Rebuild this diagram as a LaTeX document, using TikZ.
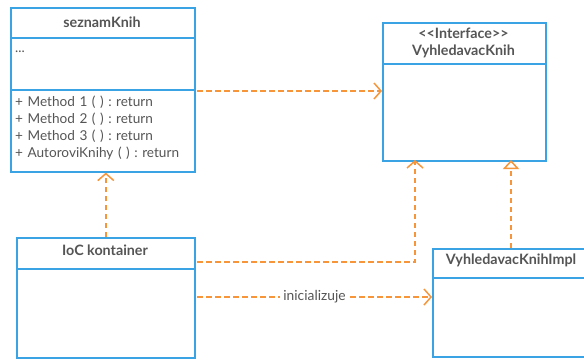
\documentclass[tikz,border=0pt]{standalone}
\usepackage{fontspec}
\setmainfont{Lato}
\usetikzlibrary{arrows.meta,calc}
\definecolor{umlblue}{HTML}{3AA3E3}
\definecolor{deporange}{HTML}{F7953A}
\definecolor{txtgray}{HTML}{555555}
\frenchspacing
\tikzset{
  x=1pt, y=-1pt,
  umlbox/.style={draw=umlblue, line width=1.6pt, fill=white, rectangle, inner sep=0pt, anchor=north west},
  divider/.style={draw=umlblue, line width=1.6pt},
  title/.style={text=txtgray, font=\fontsize{14.3}{17}\selectfont\bfseries, inner sep=0pt},
  member/.style={text=txtgray, font=\fontsize{13.6}{17}\selectfont, inner sep=0pt, anchor=west},
  dashline/.style={draw=deporange, line width=1.5pt, dash pattern=on 5.5pt off 3.5pt},
  dep/.style={dashline,
    -{Straight Barb[length=7pt,width=16pt,line width=1.5pt,sep=0pt]}},
  real/.style={dashline,
    -{Triangle[open,length=9pt,width=16pt,line width=1.5pt,fill=white]}},
  lbl/.style={text=txtgray, font=\fontsize{13.8}{15}\selectfont, fill=white, inner xsep=3pt, inner ysep=1pt},
}
\begin{document}
\begin{tikzpicture}
\useasboundingbox (0,0) rectangle (584,360);
\clip (0,0) rectangle (584,360);

% class seznamKnih
\node[umlbox, minimum width=184pt, minimum height=164pt] (sez) at (10,7) {};
\draw[divider] (10,38) -- (194,38);
\draw[divider] (10,90) -- (194,90);
\node[title] (sezT) at (102,22) {seznamKnih};
\node[member] (sezA) at (15,52) {...};
\node[member, text width=175pt, align=left] (sezM) at (15,127.5)
  {+ Method 1 ( ) : return\\+ Method 2 ( ) : return\\+ Method 3 ( ) : return\\+ AutoroviKnihy ( ) : return};

% interface VyhledavacKnih
\node[umlbox, minimum width=163pt, minimum height=138pt] (ifc) at (382,22) {};
\draw[divider] (382,64) -- (545,64);
\node[title, align=center, font=\fontsize{14.3}{17.5}\selectfont\bfseries] (ifcT) at (463.5,43) {{<}{<}Interface{>}{>}\\VyhledavacKnih};

% class IoC kontainer
\node[umlbox, minimum width=178pt, minimum height=120pt] (ioc) at (16,237) {};
\draw[divider] (16,269) -- (194,269);
\node[title] (iocT) at (105,250) {IoC kontainer};

% class VyhledavacKnihImpl
\node[umlbox, minimum width=158pt, minimum height=108pt] (impl) at (432,248) {};
\draw[divider] (432,278) -- (590,278);
\node[title] (implT) at (511,260) {VyhledavacKnihImpl};

% connector end points
\coordinate (d1s) at (197,91);
\coordinate (d1e) at (ifc.west |- d1s);
\coordinate (d3s) at (197,262);
\coordinate (d3e) at (415,160);
\coordinate (d4s) at (511,248);
\coordinate (d4e) at (511,160);
\coordinate (d5s) at (197,297);
\coordinate (d5e) at (impl.west |- d5s);

% dependencies
\draw[dep] (d1s) -- (d1e);
\draw[dep] (ioc.north) -- (ioc.north |- sez.south);
\draw[dep] (d3s) -| (d3e);
\draw[real] (d4s) -- (d4e);
\draw[dep] (d5s) -- node[lbl] (init) {inicializuje} (d5e);
\end{tikzpicture}
\end{document}
